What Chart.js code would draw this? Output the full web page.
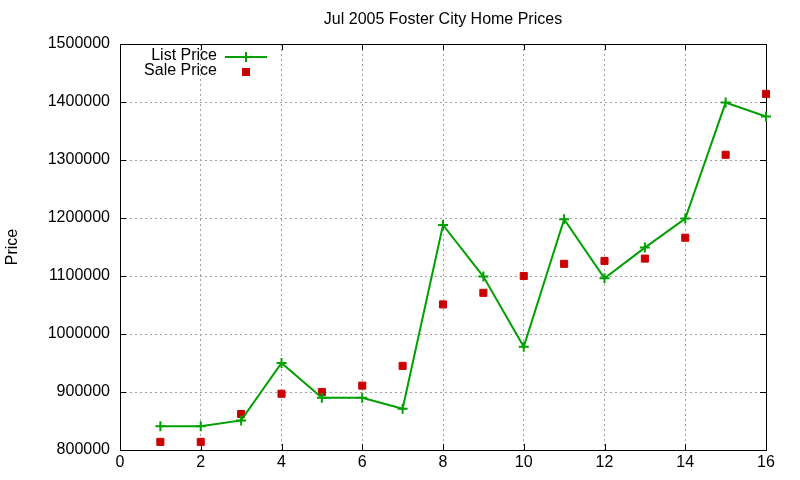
<!DOCTYPE html>
<html>
<head>
<meta charset="utf-8">
<title>Jul 2005 Foster City Home Prices</title>
<script src="https://cdn.jsdelivr.net/npm/chart.js@4/dist/chart.umd.min.js"></script>
<style>
  html, body { margin: 0; padding: 0; background: #fff; }
</style>
</head>
<body>
<canvas id="priceChart" width="800" height="480"></canvas>
<script>
// house number on the x axis, prices
const houses = [1, 2, 3, 4, 5, 6, 7, 8, 9, 10, 11, 12, 13, 14, 15, 16];
const listPrice = [841000, 841000, 851000, 950000, 890000, 890000, 871000, 1188000,
                   1099000, 978000, 1198000, 1096000, 1149000, 1199000, 1399000, 1375000];
const salePrice = [814000, 814000, 862000, 897000, 900000, 911000, 945000, 1051000,
                   1071000, 1100000, 1121000, 1126000, 1130000, 1166000, 1309000, 1414000];
const xTicks = [0, 2, 4, 6, 8, 10, 12, 14, 16];
const yTicks = [800000, 900000, 1000000, 1100000, 1200000, 1300000, 1400000, 1500000];

const seriesNames = ['List Price', 'Sale Price'];
const green = '#00a000';
const red = '#cc0000';
const font = 'Liberation Sans, Arial, sans-serif';

Chart.defaults.font.family = font;
Chart.defaults.font.size = 16;
Chart.defaults.color = '#000';

// box round the plot plus gnuplot style inward tick marks
const frame = {
    id: 'frame',
    beforeDatasetsDraw(chart) {
        const { ctx, chartArea: a, scales } = chart;
        ctx.save();
        ctx.strokeStyle = '#000';
        ctx.lineWidth = 1;
        ctx.beginPath();
        scales.x.ticks.forEach(t => {
            let px = Math.round(scales.x.getPixelForValue(t.value)) + 0.5;
            ctx.moveTo(px, a.bottom); ctx.lineTo(px, a.bottom - 6);
            ctx.moveTo(px, a.top); ctx.lineTo(px, a.top + 6);
        });
        scales.y.ticks.forEach(t => {
            let py = Math.round(scales.y.getPixelForValue(t.value)) + 0.5;
            ctx.moveTo(a.left, py); ctx.lineTo(a.left + 6, py);
            ctx.moveTo(a.right, py); ctx.lineTo(a.right - 6, py);
        });
        ctx.stroke();
        ctx.strokeRect(Math.round(a.left) + 0.5, Math.round(a.top) + 0.5,
                       Math.round(a.width), Math.round(a.height));
        ctx.restore();
    }
};

// key in the top left corner, text first then the sample
const key = {
    id: 'key',
    afterDatasetsDraw(chart) {
        const { ctx, chartArea: a } = chart;
        const textRight = a.left + 97;
        const row1 = a.top + 12, row2 = a.top + 27;
        const sx = a.left + 126;
        ctx.save();
        ctx.font = '16px ' + font;
        ctx.fillStyle = '#000';
        ctx.textAlign = 'right';
        ctx.textBaseline = 'middle';
        ctx.fillText(seriesNames[0], textRight, row1);
        ctx.fillText(seriesNames[1], textRight, row2);

        ctx.strokeStyle = green;
        ctx.lineWidth = 2;
        ctx.beginPath();
        ctx.moveTo(a.left + 105, row1 + 1); ctx.lineTo(a.left + 147, row1 + 1);
        ctx.moveTo(sx, row1 - 4); ctx.lineTo(sx, row1 + 6);
        ctx.stroke();

        ctx.fillStyle = red;
        ctx.fillRect(sx - 4, row2 - 3, 8, 8);
        ctx.restore();
    }
};

let ctx = document.getElementById('priceChart').getContext('2d');
let priceChart = new Chart(ctx, {
    type: 'line',
    data: {
        datasets: [{
            label: seriesNames[0],
            data: houses.map((h, i) => ({ x: h, y: listPrice[i] })),
            borderColor: green,
            backgroundColor: green,
            borderWidth: 2,
            tension: 0,
            pointStyle: 'cross',
            pointRadius: 5,
            pointBorderWidth: 2,
            clip: false
        }, {
            label: seriesNames[1],
            data: houses.map((h, i) => ({ x: h, y: salePrice[i] })),
            showLine: false,
            borderColor: red,
            backgroundColor: red,
            pointStyle: 'rect',
            pointRadius: 5,
            pointBorderWidth: 1,
            clip: false
        }]
    },
    options: {
        responsive: false,
        animation: false,
        devicePixelRatio: 1,
        layout: { padding: { left: 0, right: 34, top: 0, bottom: 0 } },
        plugins: {
            legend: { display: false },
            tooltip: { enabled: false },
            title: {
                display: true,
                text: 'Jul 2005 Foster City Home Prices',
                fullSize: false,
                color: '#000',
                font: { size: 16, weight: 'normal' },
                padding: { top: 10.4, bottom: 14.4 }
            }
        },
        scales: {
            x: {
                type: 'linear',
                min: xTicks[0],
                max: xTicks[xTicks.length - 1],
                afterBuildTicks: s => { s.ticks = xTicks.map(v => ({ value: v })); },
                afterFit: s => { s.height = 30; },
                ticks: { padding: 3, autoSkip: false, maxRotation: 0, callback: v => String(v) },
                grid: { color: '#a0a0a0', drawTicks: false },
                border: { display: false, dash: [2, 3] }
            },
            y: {
                min: yTicks[0],
                max: yTicks[yTicks.length - 1],
                afterBuildTicks: s => { s.ticks = yTicks.map(v => ({ value: v })); },
                afterFit: s => { s.width = 120; },
                ticks: { padding: 10, callback: v => String(v) },
                grid: { color: '#a0a0a0', drawTicks: false },
                border: { display: false, dash: [2, 3] },
                title: {
                    display: true,
                    text: 'Price',
                    font: { size: 16 },
                    padding: { top: 3, bottom: 0 }
                }
            }
        }
    },
    plugins: [frame, key]
});
</script>
</body>
</html>
